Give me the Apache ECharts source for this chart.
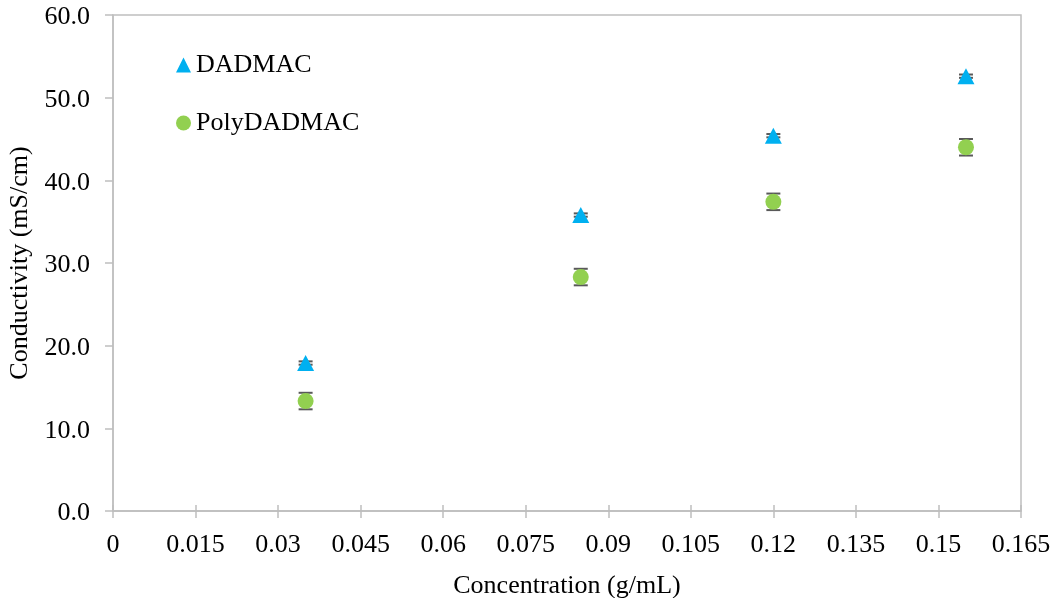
<!DOCTYPE html>
<html><head><meta charset="utf-8">
<script src="https://cdn.jsdelivr.net/npm/echarts@6/dist/echarts.min.js"></script>
<style>html,body{margin:0;padding:0;background:#fff}#c{width:1057px;height:598px}</style>
</head><body><div id="c"></div>
<script>
const concentration = [0.035, 0.085, 0.12, 0.155];
const dadmac = [17.9, 35.8, 45.4, 52.6];
const dadmacErr = [0.2, 0.2, 0.2, 0.2];
const poly = [13.3, 28.3, 37.4, 44.0];
const polyErr = [1.0, 1.0, 1.0, 1.0];
const xTicks = [0, 0.015, 0.03, 0.045, 0.06, 0.075, 0.09, 0.105, 0.12, 0.135, 0.15, 0.165];

const font = 'Liberation Serif, Times New Roman, serif';
const axisColor = '#bfbfbf';

function errData(vals, errs) {
  return concentration.map((x, i) => [x, vals[i] - errs[i], vals[i] + errs[i]]);
}
function errRender(params, api) {
  const x = api.value(0), lo = api.value(1), hi = api.value(2);
  const p1 = api.coord([x, lo]), p2 = api.coord([x, hi]);
  const w = 7;
  const st = { stroke: '#595959', lineWidth: 2 };
  return { type: 'group', children: [
    { type: 'line', shape: { x1: p1[0], y1: p1[1], x2: p2[0], y2: p2[1] }, style: st },
    { type: 'line', shape: { x1: p1[0] - w, y1: p1[1], x2: p1[0] + w, y2: p1[1] }, style: st },
    { type: 'line', shape: { x1: p2[0] - w, y1: p2[1], x2: p2[0] + w, y2: p2[1] }, style: st }
  ]};
}

const chart = echarts.init(document.getElementById('c'));
chart.setOption({
  animation: false,
  grid: { left: 113, right: 36, top: 15, bottom: 87, show: true, borderColor: axisColor, borderWidth: 1.5,
    containLabel: false, outerBoundsMode: 'none' },
  legend: {
    data: ['DADMAC', 'PolyDADMAC'],
    orient: 'vertical', left: 171, top: 47, itemWidth: 15, itemHeight: 15, itemGap: 32,
    textStyle: { fontFamily: font, fontSize: 26, color: '#000' }
  },
  xAxis: [{
    type: 'value', min: 0, max: 0.165, interval: 0.015,
    name: 'Concentration (g/mL)', nameLocation: 'middle', nameGap: 62,
    nameTextStyle: { fontFamily: font, fontSize: 26, color: '#000' },
    axisLine: { show: true, lineStyle: { color: axisColor, width: 1.5 } },
    axisTick: { show: true, length: 7, lineStyle: { color: axisColor, width: 1.5 } },
    axisLabel: { fontFamily: font, fontSize: 26, color: '#000', margin: 21,
      formatter: v => xTicks.includes(+v.toFixed(3)) ? String(+v.toFixed(3)) : '' },
    splitLine: { show: false }
  }, {
    type: 'value', min: 0, max: 0.165, interval: 0.015, position: 'bottom',
    axisLine: { show: false }, axisLabel: { show: false }, splitLine: { show: false },
    axisTick: { show: true, inside: true, length: 6, lineStyle: { color: axisColor, width: 1.5 } }
  }],
  yAxis: {
    type: 'value', min: 0, max: 60, interval: 10,
    name: 'Conductivity (mS/cm)', nameLocation: 'middle', nameGap: 76,
    nameTextStyle: { fontFamily: font, fontSize: 26, color: '#000' },
    axisLine: { show: true, lineStyle: { color: axisColor, width: 1.5 } },
    axisTick: { show: true, length: 8, lineStyle: { color: axisColor, width: 1.5 } },
    axisLabel: { fontFamily: font, fontSize: 26, color: '#000', margin: 23,
      formatter: v => '{a|' + v.toFixed(1) + '}',
      rich: { a: { fontFamily: font, fontSize: 26, color: '#000', padding: [5, 0, 0, 0] } } },
    splitLine: { show: false }
  },
  series: [
    { name: 'DADMAC-err', type: 'custom', renderItem: errRender, data: errData(dadmac, dadmacErr), z: 1, encode: { x: 0, y: [1, 2] } },
    { name: 'PolyDADMAC-err', type: 'custom', renderItem: errRender, data: errData(poly, polyErr), z: 1, encode: { x: 0, y: [1, 2] } },
    { name: 'DADMAC', type: 'scatter', symbol: 'triangle', symbolSize: [17, 16], z: 3,
      itemStyle: { color: '#00B0F0', opacity: 1 }, data: concentration.map((x, i) => [x, dadmac[i]]) },
    { name: 'PolyDADMAC', type: 'scatter', symbol: 'circle', symbolSize: 16, z: 3,
      itemStyle: { color: '#92D050', opacity: 1 }, data: concentration.map((x, i) => [x, poly[i]]) }
  ]
});
</script></body></html>
